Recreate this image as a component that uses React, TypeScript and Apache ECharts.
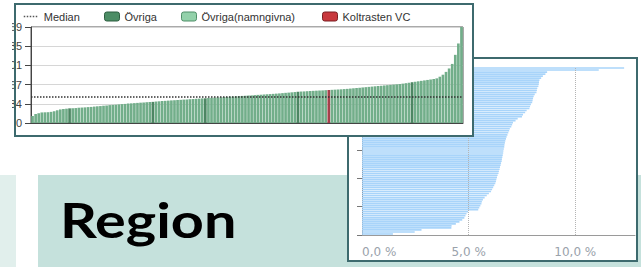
import React, { useEffect, useRef } from 'react';
import * as echarts from 'echarts';

// ---- Left chart (vertical bars, sorted) ----
const LEFT_VALUES = [
  12.3, 15.8, 17.2, 18.6, 18.8, 19.0, 19.6, 20.7, 22.4, 23.9,
  24.6, 25.2, 25.8, 26.0, 26.3, 26.9, 27.2, 27.5, 28.0, 28.3,
  28.9, 29.4, 29.8, 30.4, 30.8, 31.5, 31.9, 32.2, 32.8, 33.3,
  33.6, 34.2, 34.6, 35.0, 35.4, 35.8, 36.1, 36.6, 37.0, 37.2,
  37.8, 38.2, 38.7, 39.0, 39.4, 39.8, 40.1, 40.5, 40.8, 41.2,
  41.4, 41.9, 42.2, 42.6, 42.9, 43.3, 43.5, 44.0, 44.3, 44.7,
  45.0, 45.2, 45.7, 46.0, 46.4, 46.6, 47.0, 47.4, 47.7, 48.0,
  48.4, 48.6, 49.1, 49.5, 49.8, 50.2, 50.6, 50.9, 51.3, 51.7,
  52.1, 52.6, 53.1, 53.5, 54.0, 54.5, 55.0, 55.4, 55.6, 56.0,
  56.3, 56.6, 56.9, 57.2, 57.4, 57.8, 58.1, 58.4, 58.7, 59.0,
  59.3, 59.7, 60.1, 60.6, 61.1, 61.6, 62.0, 62.6, 63.1, 63.6,
  64.1, 64.6, 65.1, 65.5, 66.1, 66.6, 67.1, 67.6, 68.1, 68.6,
  69.3, 70.1, 70.9, 71.8, 72.6, 73.4, 74.2, 75.0, 75.8, 76.6,
  77.5, 78.6, 81.5, 85.0, 90.0, 96.0, 104.0, 120.0, 140.0, 169.0,
];
const LEFT_NAMED_INDEX = [12, 39, 56, 86, 123];
const LEFT_FOCUS_INDEX = [96];
const LEFT_MEDIAN = 47;
const LEFT_Y_TICKS = ['0', '34', '67', '101', '135', '169'];
const LEFT_Y_STEP = 33.8;
const LEGEND_NAMES = ['Median', 'Övriga', 'Övriga(namngivna)', 'Koltrasten VC'];

// ---- Right chart (horizontal bars, ascending from bottom) ----
const RIGHT_VALUES = [
  1.45, 2.47, 2.79, 4.19, 4.2, 4.4, 4.57, 4.7, 4.8, 4.85,
  4.9, 4.97, 5.45, 5.5, 5.55, 5.6, 5.62, 5.67, 5.75, 5.85,
  5.95, 6.05, 6.1, 6.15, 6.2, 6.25, 6.28, 6.3, 6.33, 6.36,
  6.4, 6.42, 6.45, 6.47, 6.5, 6.52, 6.55, 6.56, 6.58, 6.6,
  6.62, 6.63, 6.65, 6.67, 6.68, 6.7, 6.72, 6.75, 6.78, 6.82,
  6.86, 6.9, 6.93, 7.0, 7.04, 7.08, 7.2, 7.3, 7.5, 7.55,
  7.65, 7.72, 7.85, 7.88, 7.92, 7.98, 8.0, 8.02, 8.05, 8.1,
  8.18, 8.2, 8.22, 8.27, 8.29, 8.3, 8.32, 8.4, 8.48, 8.6,
  8.68, 11.1, 12.29,
];
const RIGHT_X_TICKS = ['0,0 %', '5,0 %', '10,0 %'];
const RIGHT_X_STEP = 5;
const RIGHT_X_MAX = 12.8;
const RIGHT_GRID_VALUES = [5, 10];

const TITLE = 'Region';

const FRAME = '#3d6a6e';

export default function App() {
  const ref = useRef<HTMLDivElement>(null);

  useEffect(() => {
    if (!ref.current) return;
    const chart = echarts.init(ref.current, undefined, { renderer: 'svg' });

    const leftCats = LEFT_VALUES.map((_, i) => String(i + 1));
    const isNamed = (i: number) => LEFT_NAMED_INDEX.includes(i);
    const isFocus = (i: number) => LEFT_FOCUS_INDEX.includes(i);
    const others = LEFT_VALUES.map((v, i) => (isNamed(i) || isFocus(i) ? '-' : v));
    const named = LEFT_VALUES.map((v, i) => (isNamed(i) ? v : '-'));
    const focus = LEFT_VALUES.map((v, i) => (isFocus(i) ? v : '-'));

    const arial = 'Liberation Sans, Arial, sans-serif';

    const legendItems = [
      { name: LEGEND_NAMES[0], itemStyle: { opacity: 0 }, lineStyle: { type: 'dotted', color: '#555', width: 1.5, opacity: 1 } },
      { name: LEGEND_NAMES[1], itemStyle: { color: '#4c8d65', borderColor: '#2d5e40', borderWidth: 1 } },
      { name: LEGEND_NAMES[2], itemStyle: { color: '#93d1aa', borderColor: '#4f8f68', borderWidth: 1 } },
      { name: LEGEND_NAMES[3], itemStyle: { color: '#c8373c', borderColor: '#7a1f22', borderWidth: 1 } },
    ];
    const legendLeft = [23, 104, 181, 322];

    chart.setOption({
      animation: false,
      backgroundColor: '#ffffff',
      legend: legendItems.map((item, i) => ({
        data: [item],
        left: legendLeft[i],
        top: 11,
        itemWidth: 15,
        itemHeight: 9,
        padding: 0,
        selectedMode: false,
        textStyle: { fontSize: 11, color: '#333', fontFamily: arial },
        z: 12,
      })),
      grid: [
        {
          left: 31, top: 27, width: 432, height: 96,
          show: true, borderColor: '#555', borderWidth: 1, backgroundColor: 'transparent', z: 11,
        },
        { left: 362, top: 67, width: 273, height: 168, z: 2 },
      ],
      xAxis: [
        {
          gridIndex: 0,
          type: 'category',
          data: leftCats,
          axisLine: { lineStyle: { color: '#444' } },
          axisTick: { show: false },
          axisLabel: { show: false },
          z: 11,
        },
        {
          gridIndex: 1,
          type: 'value',
          min: 0,
          max: RIGHT_X_MAX,
          interval: RIGHT_X_STEP,
          axisLine: { show: true, lineStyle: { color: '#9a9a9a' } },
          axisTick: { show: false },
          splitLine: { show: false },
          axisLabel: {
            margin: 11,
            fontSize: 12,
            color: '#9aa2ab',
            fontFamily: 'DejaVu Sans, sans-serif',
            alignMinLabel: 'left',
            showMaxLabel: false,
            formatter: (v: number) => RIGHT_X_TICKS[Math.round(v / RIGHT_X_STEP)] ?? '',
          },
          z: 3,
        },
      ],
      yAxis: [
        {
          gridIndex: 0,
          type: 'value',
          min: 0,
          max: 169,
          interval: LEFT_Y_STEP,
          axisLine: { show: true, lineStyle: { color: '#444' } },
          axisTick: { show: true, length: 6, lineStyle: { color: '#444' } },
          axisLabel: {
            margin: 9,
            fontSize: 11,
            color: '#444',
            fontFamily: arial,
            formatter: (v: number) => LEFT_Y_TICKS[Math.round(v / LEFT_Y_STEP)] ?? '',
          },
          splitLine: { lineStyle: { color: '#d6d6d6' } },
          z: 11,
        },
        {
          gridIndex: 1,
          type: 'category',
          data: RIGHT_VALUES.map((_, i) => String(i + 1)),
          axisLine: { show: true, lineStyle: { color: '#777' } },
          axisTick: { show: true, interval: 13, length: 5, lineStyle: { color: '#777' } },
          axisLabel: { show: false },
          z: 3,
        },
      ],
      series: [
        {
          name: LEGEND_NAMES[0],
          type: 'line',
          xAxisIndex: 0,
          yAxisIndex: 0,
          data: [],
          symbol: 'none',
          showSymbol: false,
          itemStyle: { color: '#444' },
          lineStyle: { type: 'dotted', color: '#444', width: 1.5 },
          markLine: {
            silent: true,
            symbol: 'none',
            label: { show: false },
            lineStyle: { type: 'dotted', color: '#333', width: 1.5 },
            data: [{ yAxis: LEFT_MEDIAN }],
            z: 13,
          },
          z: 13,
        },
        {
          name: LEGEND_NAMES[1],
          type: 'bar',
          stack: 'vc',
          xAxisIndex: 0,
          yAxisIndex: 0,
          data: others,
          barCategoryGap: '14%',
          itemStyle: { color: '#72ae8a' },
          z: 12,
        },
        {
          name: LEGEND_NAMES[2],
          type: 'bar',
          stack: 'vc',
          xAxisIndex: 0,
          yAxisIndex: 0,
          data: named,
          barCategoryGap: '14%',
          itemStyle: { color: '#4d8663' },
          z: 12,
        },
        {
          name: LEGEND_NAMES[3],
          type: 'bar',
          stack: 'vc',
          xAxisIndex: 0,
          yAxisIndex: 0,
          data: focus,
          barCategoryGap: '14%',
          itemStyle: { color: '#a6404a' },
          z: 12,
        },
        {
          name: 'Andel',
          type: 'bar',
          xAxisIndex: 1,
          yAxisIndex: 1,
          data: RIGHT_VALUES,
          barCategoryGap: '18%',
          itemStyle: { color: '#a8d4fa' },
          markLine: {
            silent: true,
            symbol: 'none',
            label: { show: false },
            lineStyle: { type: 'dotted', color: '#b4b4b4', width: 1 },
            data: RIGHT_GRID_VALUES.map((v) => ({ xAxis: v })),
            z: 4,
          },
          z: 3,
        },
      ],
      graphic: [
        { type: 'rect', z: 0, shape: { x: 0, y: 175, width: 16, height: 92 }, style: { fill: '#e1efec' } },
        { type: 'rect', z: 0, shape: { x: 38, y: 175, width: 603, height: 92 }, style: { fill: '#c5e1dc' } },
        {
          type: 'text', z: 0, x: 60, y: 219, scaleX: 1.2,
          style: { text: TITLE, fontSize: 48, fontWeight: 'bold', fontFamily: 'Lato, sans-serif', fill: '#000', verticalAlign: 'middle', align: 'left' },
        },
        {
          type: 'rect', z: 1, shape: { x: 348, y: 58, width: 289, height: 203 },
          style: { fill: '#fff', stroke: FRAME, lineWidth: 2 },
        },
        {
          type: 'rect', z: 10, shape: { x: 15, y: 4, width: 458, height: 132 },
          style: { fill: '#fff', stroke: FRAME, lineWidth: 2 },
        },
        { type: 'rect', z: 14, shape: { x: 0, y: 0, width: 12, height: 140 }, style: { fill: '#fff' } },
        {
          type: 'rect', z: 15, shape: { x: 15, y: 4, width: 458, height: 132 },
          style: { fill: 'none', stroke: FRAME, lineWidth: 2 },
        },
      ],
    });

    return () => chart.dispose();
  }, []);

  return (
    <div
      ref={ref}
      style={{ position: 'fixed', left: 0, top: 0, width: 641, height: 267, background: '#fff' }}
    />
  );
}
